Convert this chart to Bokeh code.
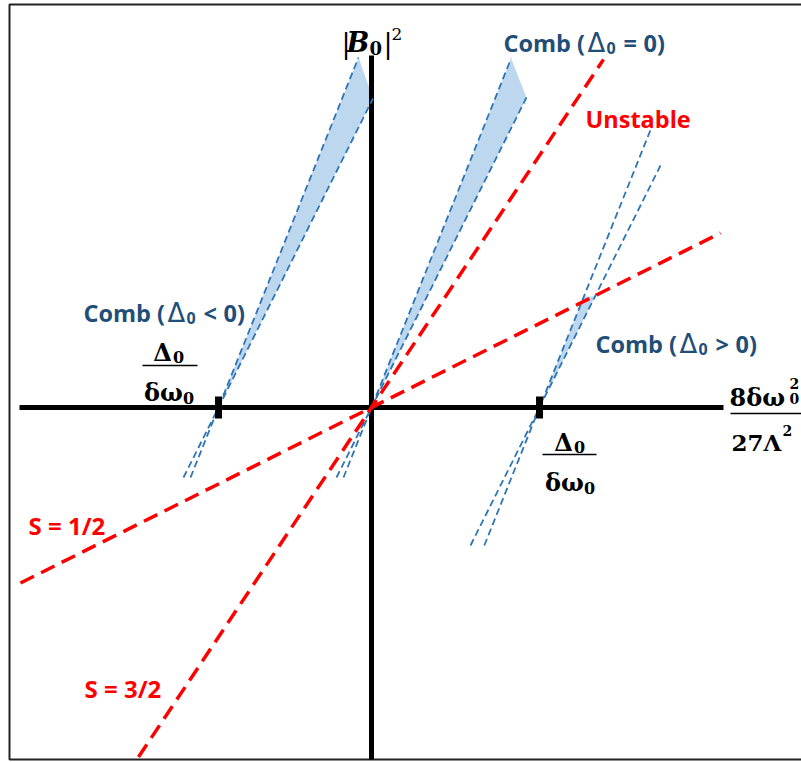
from bokeh.plotting import figure
from bokeh.models import Range1d
from bokeh.embed import file_html
from bokeh.resources import INLINE
from bokeh.core.properties import value

# ---- schematic data (arbitrary units, origin at the axes crossing) ----
comb_signs = ["<", "=", ">"]          # sign of Δ0 for each comb band
comb_x0 = [-153, 0, 168]              # x-intercepts (Δ0/δω0)
comb_slope_a = 2.5                    # steeper edge of comb band
comb_slope_b = 2.0                    # shallower edge of comb band
comb_top_a = [350, 349, 277]          # upper extent of steep edge
comb_top_b = [309, 310, 242]          # upper extent of shallow edge
comb_bottom = [-70, -70, -138]        # lower extent of both edges
comb_fill_top_a = [350, 349, 111]     # shaded band, steep edge top
comb_fill_top_b = [309, 310, 111]     # shaded band, shallow edge top

s_names = ["S = 3/2", "S = 1/2"]
s_slopes = [1.5, 0.5]
s_xmin = [-233, -351]
s_xmax = [232, 349]

xaxis_ext = [-352, 352]
yaxis_ext = [-352, 352]
tick_x = [-153, 168]
tick_half = 11

RED = "#FF0000"
BLUE = "#2E75B6"
FILL = "#BDD7EE"
NAVY = "#1F4E79"

W, H = 801, 762
OX, OY = 371, 407   # origin position inside the canvas (px)

p = figure(width=W, height=H, x_range=Range1d(-OX, W - OX), y_range=Range1d(OY - H, OY),
           output_backend="svg", toolbar_location=None, min_border=0)
p.axis.visible = False
p.grid.visible = False
p.outline_line_color = None
p.background_fill_color = "white"
p.border_fill_color = "white"


def X(px):
    return px - OX


def Y(py):
    return OY - py


# frame (left, top, bottom; right edge lies outside the picture)
p.line([X(W + 5), X(9), X(9), X(W + 5)], [Y(4), Y(4), Y(759), Y(759)],
       line_color="#222222", line_width=2)

# shaded comb bands
for x0, ta, tb in zip(comb_x0, comb_fill_top_a, comb_fill_top_b):
    p.patch([x0, x0 + ta / comb_slope_a, x0 + tb / comb_slope_b],
            [0, ta, tb], fill_color=FILL, line_color=None)

# axes
p.line(xaxis_ext, [0, 0], line_color="black", line_width=5)
p.line([0, 0], yaxis_ext, line_color="black", line_width=5)

# comb edges
for x0, ta, tb, bt in zip(comb_x0, comb_top_a, comb_top_b, comb_bottom):
    p.line([x0 + bt / comb_slope_a, x0 + ta / comb_slope_a], [bt, ta],
           line_color=BLUE, line_width=1.8, line_dash="7 4")
    p.line([x0 + bt / comb_slope_b, x0 + tb / comb_slope_b], [bt, tb],
           line_color=BLUE, line_width=1.8, line_dash="7 4")

# stability lines
for s, a, b in zip(s_slopes, s_xmin, s_xmax):
    p.line([a, b], [s * a, s * b], line_color=RED, line_width=3.5, line_dash="15 8")

# ticks
for tx in tick_x:
    p.line([tx, tx], [-tick_half, tick_half], line_color="black", line_width=7)


# ---- labels ----
def txt(s, px, py, size, color="black", font="Open Sans", style="bold", align="left"):
    p.text([X(px)], [Y(py)], text=[s], text_font=value(font), text_font_size=f"{size}px",
           text_font_style=style, text_color=color, text_align=align,
           text_baseline="alphabetic")


def comb_label(sign, left, base):
    # "Comb (Δ0 sign 0)" built from pieces
    txt("Comb (", left, base, 23.5, NAVY)
    txt("Δ", left + 93, base, 26, NAVY, font="DejaVu Sans", style="normal", align="center")
    txt("0", left + 103, base + 5, 16, NAVY)
    txt(sign, left + 120, base, 23.5, NAVY)
    txt("0)", left + 140, base, 23.5, NAVY)


comb_label(comb_signs[1], 503, 42)
comb_label(comb_signs[0], 83, 312)
comb_label(comb_signs[2], 595, 343)

txt("Unstable", 585, 118, 23.5, RED)
txt(s_names[1], 28, 525, 24, RED)
txt(s_names[0], 84, 688, 24, RED)

SERIF = "DejaVu Serif"
# |B0|^2
txt("|", 341, 43, 27, font=SERIF, style="normal")
txt("B", 346, 42, 27, font=SERIF, style="bold italic")
txt("0", 369, 47, 18, font=SERIF, style="bold")
txt("|", 383, 43, 27, font=SERIF, style="normal")
txt("2", 391, 33, 17, font=SERIF, style="normal")


def fraction(cx, num_base, bar_y, den_base, x1, x2):
    txt("Δ", cx - 7, num_base, 24, font=SERIF, style="bold", align="center")
    txt("0", cx + 9, num_base + 4, 16, font=SERIF, style="bold", align="center")
    p.line([X(x1), X(x2)], [Y(bar_y), Y(bar_y)], line_color="black", line_width=1.6)
    txt("δω", cx - 6, den_base, 24, font=SERIF, style="bold", align="center")
    txt("0", cx + 19, den_base + 5, 16, font=SERIF, style="bold", align="center")


fraction(169, 352, 365, 392, 142, 197)
fraction(570, 442, 454, 482, 542, 596)

# x-axis label 8δω0^2 / 27Λ^2
txt("8δω", 729, 397, 24, font=SERIF, style="bold")
txt("2", 789, 383, 14, font=SERIF, style="bold")
txt("0", 789, 398, 14, font=SERIF, style="bold")
p.line([X(730), X(W + 5)], [Y(413), Y(413)], line_color="black", line_width=1.6)
txt("27Λ", 731, 442, 23, font=SERIF, style="bold")
txt("2", 782, 430, 14, font=SERIF, style="bold")

open("out.html", "w").write(file_html(p, INLINE))
